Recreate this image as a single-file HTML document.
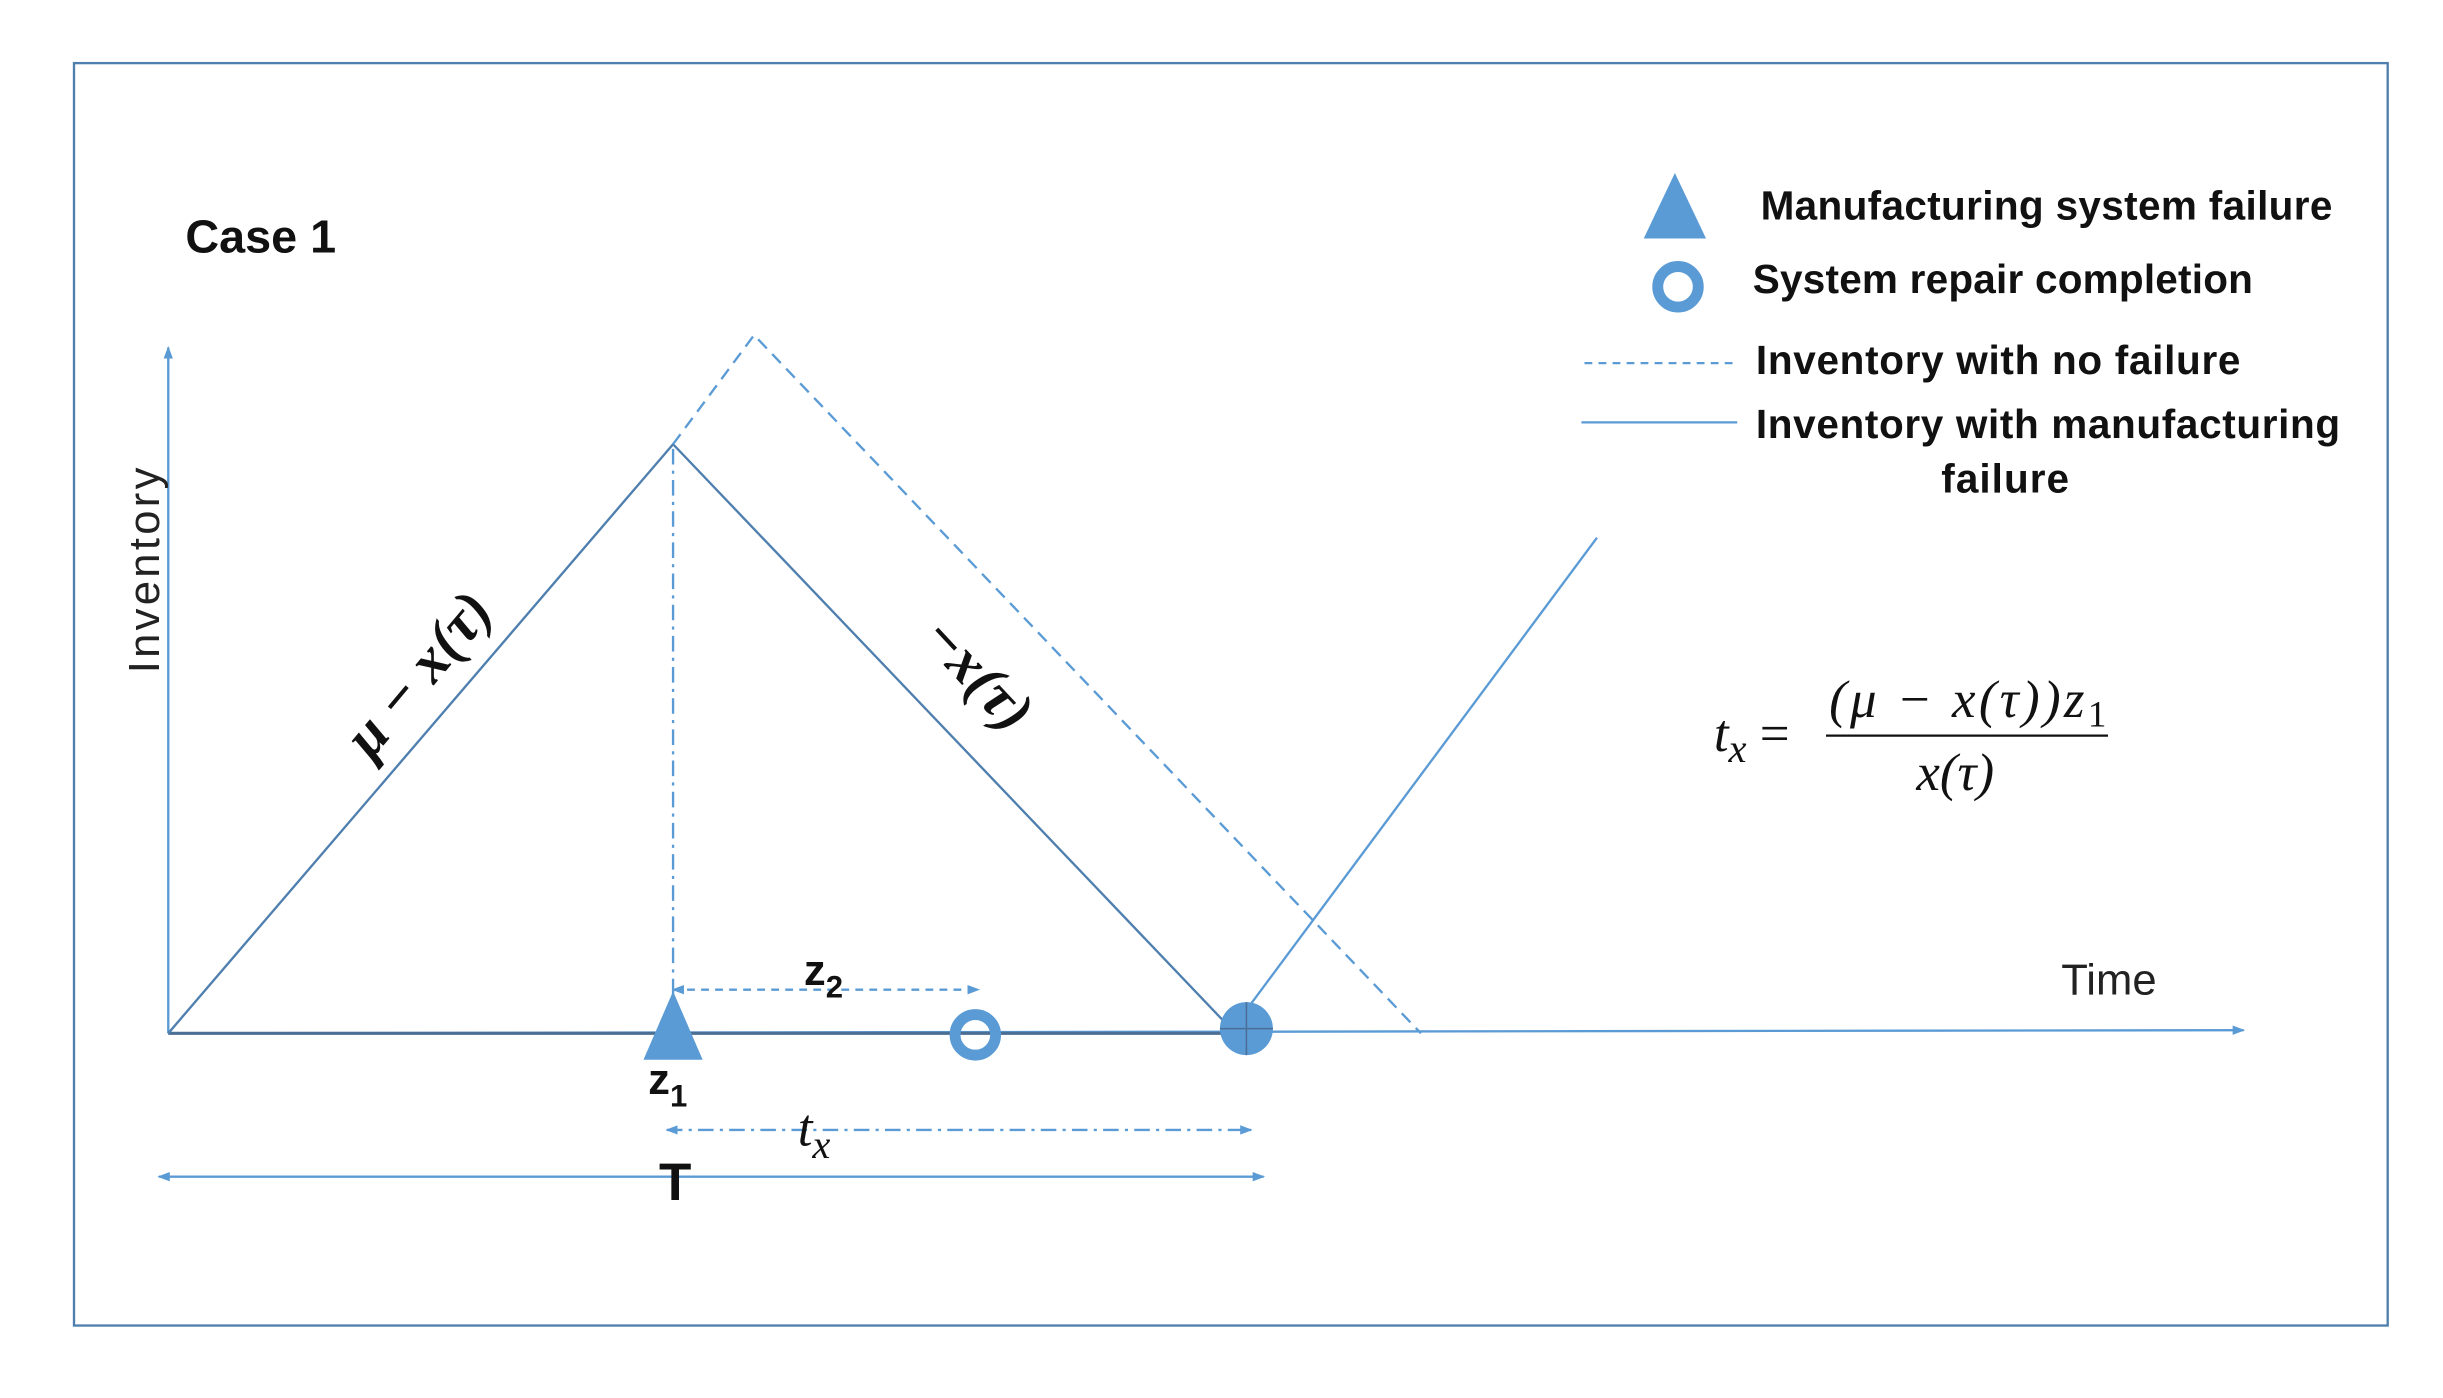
<!DOCTYPE html>
<html><head><style>html,body{margin:0;padding:0;background:#fff;}svg{display:block}</style></head>
<body>
<svg width="2443" height="1398" viewBox="0 0 1568 897" preserveAspectRatio="none" xmlns="http://www.w3.org/2000/svg">
<defs>
<marker id="a" markerWidth="8" markerHeight="8" refX="7" refY="4" orient="auto" markerUnits="userSpaceOnUse"><path d="M0,1 L8,4 L0,7 Z" fill="#5b9bd5"/></marker>
<marker id="b" markerWidth="8" markerHeight="8" refX="1" refY="4" orient="auto" markerUnits="userSpaceOnUse"><path d="M8,1 L0,4 L8,7 Z" fill="#5b9bd5"/></marker>
</defs>
<rect x="0" y="0" width="1568" height="897" fill="#fff"/>
<rect x="47.5" y="40.5" width="1485" height="810" fill="none" stroke="#4f7fae" stroke-width="1.5"/>
<g stroke="#5b9bd5" stroke-width="1.5" fill="none">
<line x1="108" y1="663" x2="108" y2="223" marker-end="url(#a)"/>
<line x1="108" y1="663" x2="1440" y2="661" marker-end="url(#a)"/>
<line x1="108" y1="663" x2="790" y2="663" stroke="#4a6e94" stroke-width="2"/>
<polyline points="108,663 432,285 790,660" stroke="#4f7fae"/>
<line x1="800" y1="648" x2="1025" y2="345"/>
<polyline points="432,285 484,215 912,663" stroke-dasharray="8,5"/>
<line x1="432" y1="288" x2="432" y2="640" stroke-dasharray="10,4,2,4"/>
<line x1="432" y1="635" x2="628" y2="635" stroke-dasharray="5,4" marker-start="url(#b)" marker-end="url(#a)"/>
<line x1="428" y1="725" x2="803" y2="725" stroke-dasharray="10,4,2,4" marker-start="url(#b)" marker-end="url(#a)"/>
<line x1="102" y1="755" x2="811" y2="755" marker-start="url(#b)" marker-end="url(#a)"/>
<line x1="1017" y1="233" x2="1113" y2="233" stroke-dasharray="5,4"/>
<line x1="1015" y1="271" x2="1115" y2="271"/>
</g>
<polygon points="432,636 413,680 451,680" fill="#5b9bd5"/>
<circle cx="626" cy="664" r="13" fill="none" stroke="#5b9bd5" stroke-width="7"/>
<circle cx="800" cy="660" r="17" fill="#5b9bd5"/>
<line x1="800" y1="643" x2="800" y2="677" stroke="#4a6e94" stroke-width="1"/>
<line x1="783" y1="660" x2="817" y2="660" stroke="#4a6e94" stroke-width="1"/>
<polygon points="1075,111 1055,153 1095,153" fill="#5b9bd5"/>
<circle cx="1077" cy="184" r="13" fill="none" stroke="#5b9bd5" stroke-width="7"/>
<g font-family="Liberation Sans, sans-serif" font-weight="bold" fill="#111" font-size="26">
<text x="119" y="162" font-size="30">Case 1</text>
<text x="1130" y="141" textLength="367">Manufacturing system failure</text>
<text x="1125" y="188" textLength="321">System repair completion</text>
<text x="1127" y="240" textLength="311">Inventory with no failure</text>
<text x="1127" y="281" textLength="375">Inventory with manufacturing</text>
<text x="1246" y="316" textLength="82">failure</text>
<text x="516" y="632" font-size="28">z<tspan font-size="20" dy="8">2</tspan></text>
<text x="416" y="702" font-size="28">z<tspan font-size="20" dy="8">1</tspan></text>
<text x="423" y="770" font-size="34">T</text>
</g>
<g font-family="Liberation Sans, sans-serif" fill="#222" font-size="28">
<text x="1323" y="638">Time</text>
<text transform="translate(102,432) rotate(-90)" textLength="132">Inventory</text>
</g>
<g font-family="Liberation Serif, serif" font-style="italic" fill="#111">
<text transform="translate(238,488) rotate(-50)" font-size="38" font-weight="bold">μ − x(τ)</text>
<text transform="translate(590,410) rotate(47)" font-size="38" font-weight="bold">−x(τ)</text>
<text x="512" y="735" font-size="34">t<tspan font-size="26" dy="8">x</tspan></text>
<text x="1100" y="482" font-size="34">t<tspan font-size="26" dy="7">x</tspan><tspan dy="-7" font-style="normal"> =</tspan></text>
<text x="1174" y="460" font-size="34" textLength="178">(μ − x(τ))z<tspan font-size="24" dy="6" font-style="normal">1</tspan></text>
<text x="1230" y="507" font-size="34">x(τ)</text>
</g>
<line x1="1172" y1="472" x2="1353" y2="472" stroke="#111" stroke-width="1.5"/>
</svg>
</body></html>
